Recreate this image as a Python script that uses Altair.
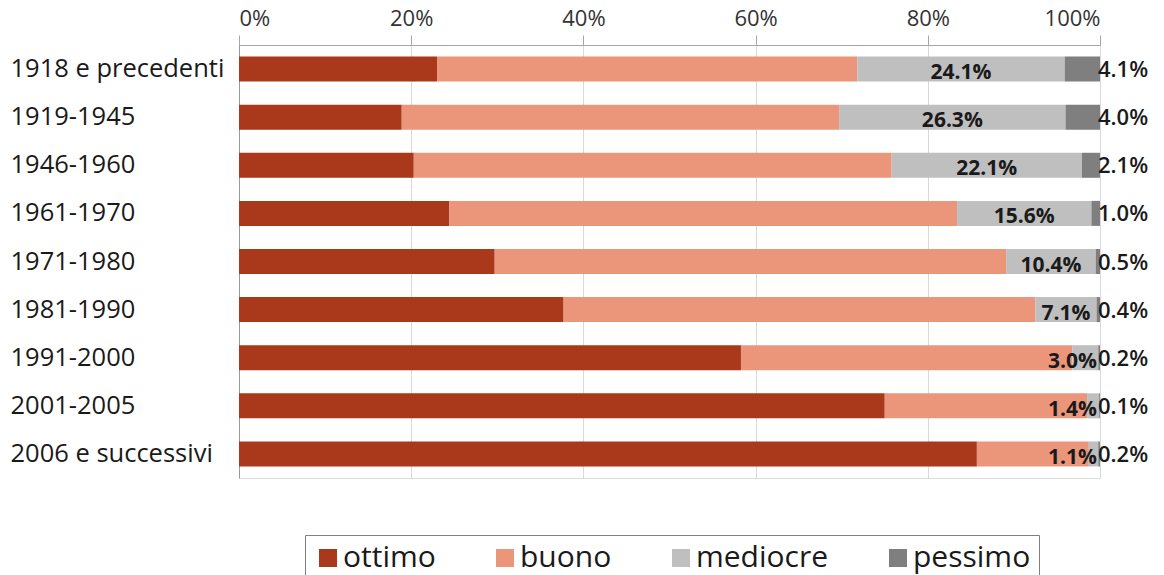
import altair as alt
import pandas as pd

categorie = ["1918 e precedenti", "1919-1945", "1946-1960", "1961-1970", "1971-1980",
             "1981-1990", "1991-2000", "2001-2005", "2006 e successivi"]
ottimo = [23.0, 18.9, 20.3, 24.4, 29.7, 37.7, 58.3, 75.0, 85.7]
buono = [48.8, 50.8, 55.5, 59.0, 59.4, 54.8, 38.5, 23.5, 13.0]
mediocre = [24.1, 26.3, 22.1, 15.6, 10.4, 7.1, 3.0, 1.4, 1.1]
pessimo = [4.1, 4.0, 2.1, 1.0, 0.5, 0.4, 0.2, 0.1, 0.2]
stati = ["ottimo", "buono", "mediocre", "pessimo"]
colori = ["#A9391A", "#EB967A", "#BFBFBF", "#7F7F7F"]
x_ticks = [0, 20, 40, 60, 80, 100]

serie = {"ottimo": ottimo, "buono": buono, "mediocre": mediocre, "pessimo": pessimo}
rows = []
for i, c in enumerate(categorie):
    for k, s in enumerate(stati):
        rows.append({"categoria": c, "stato": s, "ordine": k, "valore": serie[s][i]})
long = pd.DataFrame(rows)
wide = pd.DataFrame({"categoria": categorie, **serie})

FONT = "Open Sans"

y_enc = alt.Y(
    "categoria:N", sort=categorie, title=None,
    scale=alt.Scale(paddingInner=0.48, paddingOuter=0.24),
    axis=alt.Axis(labelAlign="left", labelPadding=229, ticks=False, tickSize=0,
                  labelFont=FONT, labelFontSize=25.5, labelColor="#1a1a1a",
                  domainColor="#9a9a9a", grid=False, labelLimit=400),
)

bars = alt.Chart(long).mark_bar().encode(
    y=y_enc,
    x=alt.X("valore:Q", stack="zero", title=None,
            scale=alt.Scale(domain=[0, 100], nice=False),
            axis=alt.Axis(orient="top", values=x_ticks, labelExpr="datum.value + '%'",
                          tickSize=10, labelPadding=5, labelFont=FONT, labelFontSize=22,
                          labelColor="#333333", grid=True, gridColor="#d9d9d9",
                          domainColor="#a6a6a6", tickColor="#a6a6a6")),
    color=alt.Color("stato:N", sort=stati,
                    scale=alt.Scale(domain=stati, range=colori),
                    legend=alt.Legend(title=None, orient="none", legendX=66, legendY=490,
                                      direction="horizontal", symbolType="square",
                                      symbolSize=324, symbolStrokeWidth=0, symbolOpacity=1,
                                      labelFont=FONT, labelFontSize=30, labelColor="#1a1a1a",
                                      columnPadding=54, strokeColor="#7f7f7f", padding=8,
                                      labelOffset=0, labelLimit=400)),
    order=alt.Order("ordine:Q"),
)

med_text = alt.Chart(wide).transform_calculate(
    pos="min(datum.ottimo + datum.buono + datum.mediocre / 2, 96.8)",
    lab="format(datum.mediocre, '.1f') + '%'",
).mark_text(font=FONT, fontSize=21, fontWeight="bold", color="#1a1a1a",
            dy=4, baseline="middle", align="center").encode(
    y=alt.Y("categoria:N", sort=categorie, title=None),
    x=alt.X("pos:Q", title=None),
    text="lab:N",
)

pes_text = alt.Chart(wide).transform_calculate(
    pos="100",
    lab="format(datum.pessimo, '.1f') + '%'",
).mark_text(font=FONT, fontSize=22, fontWeight=600, color="#1a1a1a",
            dx=-2, dy=1, baseline="middle", align="left").encode(
    y=alt.Y("categoria:N", sort=categorie, title=None),
    x=alt.X("pos:Q", title=None),
    text="lab:N",
)

chart = alt.layer(bars, med_text, pes_text).properties(
    width=861, height=433,
    autosize=alt.AutoSizeParams(type="none"),
    padding={"left": 239, "top": 45, "right": 64, "bottom": 97},
).configure_view(stroke="#d9d9d9").configure(background="white")

chart.save("out.html", embed_options={"renderer": "svg", "actions": False})
